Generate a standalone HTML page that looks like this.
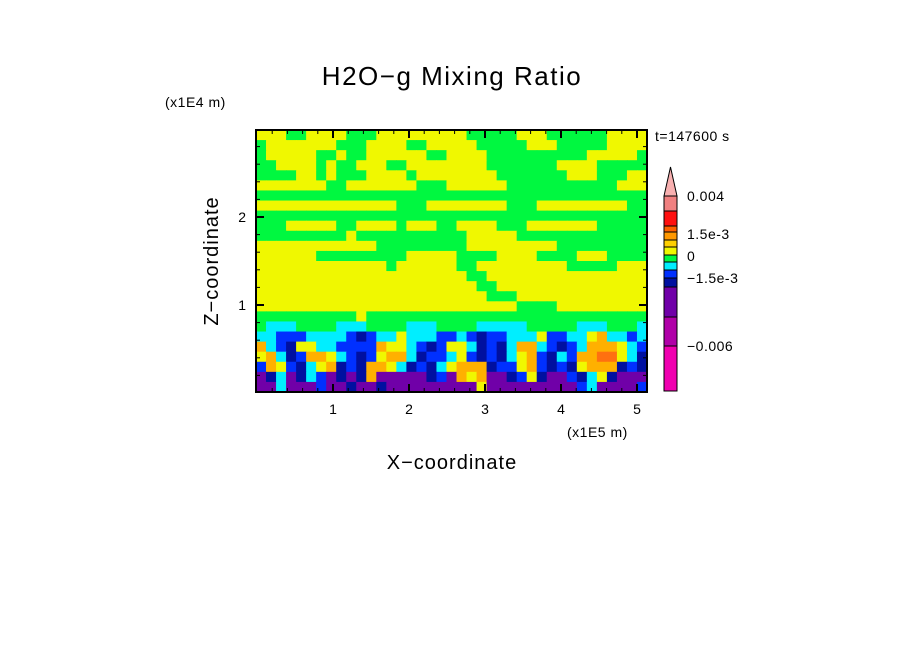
<!DOCTYPE html>
<html><head><meta charset="utf-8"><style>
body{margin:0;background:#fff;}
svg{display:block;font-family:"Liberation Sans",sans-serif;}
</style></head><body>
<svg id="c" width="904" height="654">
<text x="452" y="85" font-size="26" letter-spacing="1.5" text-anchor="middle">H2O−g Mixing Ratio</text>
<text x="165" y="107" font-size="14" letter-spacing="0.5">(x1E4 m)</text>
<text x="567" y="437" font-size="14" letter-spacing="0.5">(x1E5 m)</text>
<text x="452" y="469" font-size="20" letter-spacing="1" text-anchor="middle">X−coordinate</text>
<text x="218" y="261" font-size="20" letter-spacing="1" text-anchor="middle" transform="rotate(-90 218 261)">Z−coordinate</text>
<text x="655" y="141" font-size="14" letter-spacing="0.5">t=147600 s</text>
<g id="field"></g>
<g id="axes"></g>
<g id="cbar"></g>
</svg>
<script>
const ns="http://www.w3.org/2000/svg";
const rows=[
"YYYGGYYYYGGGYYYYYYYYYGGGGGYYYGGGGGGYYYY",
"GYYYYYYYGGGYYYYGGYYYYYGGGGGYYYGGGGGYYYY",
"GYYYYYGGYGGYYYYYYGGYYYYGGGGGGGGGGYYYYYG",
"GGYYYYGYGGYYYGGYYYYYYYYGGGGGGGYYYYGGGGG",
"GGGGYYGYGGGYYYYGYYYYYYYYGGGGGGGYYYGGGYY",
"YYYYYYYGGYYYYYYYGGGYYYYYYGGGGGGGGGGGYYY",
"GGGGGGGGGGGGGGGGGGGGGGGGGGGGGGGGGGGGGGG",
"YYYYYYYYYYYYYYGGGYYYYYYYYGGGYYYYYYYYYGG",
"GGGGGGGGGGGGGGGGGGGGGGGGGGGGGGGGGGGGGGG",
"GGGYYYYYGGYYYYGYYYGGYYYYGGGYYYYYYYGGGGG",
"GGGGGGGGGYGGGGGGGGGGGYYYYYGGGGGGGGGGGGG",
"YYYYYYYYYYYYGGGGGGGGGYYYYYYYYYGGGGGGGGG",
"YYYYYYGGGGGGGGGYYYYYGGGGYYYYGGGGYYYGGGG",
"YYYYYYYYYYYYYGYYYYYYGGYYYYYYYYYGGGGGYYY",
"YYYYYYYYYYYYYYYYYYYYYGGYYYYYYYYYYYYYYYY",
"YYYYYYYYYYYYYYYYYYYYYYGGYYYYYYYYYYYYYYY",
"YYYYYYYYYYYYYYYYYYYYYYYGGGYYYYYYYYYYYYY",
"YYYYYYYYYYYYYYYYYYYYYYYYYYGGGGYYYYYYYYY",
"GGGGGGGGGGYGGGGGGGGGGGGGGGGGGGGGGGGGGGG",
"GCCCGGGGCCCGGGGCCCGGGGCCCCCGGGGGCCCGGGC",
"CCBBBCCCCBNBCCYCCCBBCBNBBCCCYBBCCYOCCBC",
"OCBNYYCCBBBBOYYCBNBYYCNBNCOOCBNBCOOOYCB",
"YOCNBOOYCBNBYOOCNBBCYBNBNCYOBNCBOORRYCN",
"BOYBNCYONBNOOYCNBNCYOOONBBYOBNBNYOOONBN",
"PNCPNCBPNPNOPPPPPNBPOYOPPNBYNPPBNCYNPPP",
"PPCPPPBPPNPPNPPPPPPPPPYPPPPPPPPPBCPPPPB"];
const palette={Y:"#f0f800",G:"#00f840",C:"#00eeff",B:"#0030ff",N:"#0010a0",P:"#7000a8",O:"#ffb000",R:"#ff7010"};
const xTicks=[1,2,3,4,5];
const zTicks=[1,2];
const cbColors=["#f08080","#ff1010","#ff6000","#ff9800","#ffd000","#f0f800","#00f840","#00eeff","#0030ff","#0010a0","#7000a8","#b000a8","#f000b0"];
const cbEdges=[196,211,226,232,240,247,255,262,270,278,287,317,346,391];
const cbLabels=["0.004","1.5e-3","0","−1.5e-3","−0.006"];
const cbLabelY=[201,239,261,283,351];
const X0=256,X1=647,Y0=130,Y1=392;
const xs=v=>257+v*76;
const zs=v=>393-v*88;
function mk(tag,attrs,parent){const e=document.createElementNS(ns,tag);for(const k in attrs)e.setAttribute(k,attrs[k]);parent.appendChild(e);return e;}
const field=document.getElementById('field');
const rh=(Y1-Y0)/rows.length;
rows.forEach((r,i)=>{const cw=(X1-X0)/r.length;for(let j=0;j<r.length;j++){
 const e=mk('rect',{x:X0+j*cw,y:Y0+i*rh,width:cw+0.6,height:rh+0.6,fill:palette[r[j]]},field);
 
 }});
const ax=document.getElementById('axes');
const fr=mk('rect',{x:X0,y:Y0,width:X1-X0,height:Y1-Y0,fill:"none",stroke:"#000","stroke-width":2},ax);


for(let v=0.2;v<5.15;v+=0.2){const x=xs(v),maj=Math.abs(v-Math.round(v))<0.01,L=maj?8:4;
 mk('line',{x1:x,x2:x,y1:Y1,y2:Y1-L,stroke:"#000","stroke-width":maj?2:1},ax);
 mk('line',{x1:x,x2:x,y1:Y0,y2:Y0+L,stroke:"#000","stroke-width":maj?2:1},ax);}
for(let v=0.2;v<2.98;v+=0.2){const y=zs(v),maj=Math.abs(v-Math.round(v))<0.01,L=maj?8:4;
 mk('line',{x1:X0,x2:X0+L,y1:y,y2:y,stroke:"#000","stroke-width":maj?2:1},ax);
 mk('line',{x1:X1,x2:X1-L,y1:y,y2:y,stroke:"#000","stroke-width":maj?2:1},ax);}
xTicks.forEach(v=>{const t=mk('text',{x:xs(v),y:414,"font-size":14,"text-anchor":"middle"},ax);t.textContent=v;
 
 });
zTicks.forEach(v=>{const t=mk('text',{x:246,y:zs(v)+5,"font-size":14,"text-anchor":"end"},ax);t.textContent=v;
 
 });
const cb=document.getElementById('cbar');
cbColors.forEach((c,i)=>{const e=mk('rect',{x:664,y:cbEdges[i],width:13,height:cbEdges[i+1]-cbEdges[i],fill:c,stroke:"#000","stroke-width":1},cb);
 
 });
const tip=mk('polygon',{points:"664,196 670.5,167 677,196",fill:"#f8b0b0",stroke:"#000","stroke-width":1},cb);


cbLabels.forEach((l,i)=>{const t=mk('text',{x:687,y:cbLabelY[i],"font-size":14,"letter-spacing":0.5},cb);t.textContent=l;
 
 });
</script>
</body></html>
